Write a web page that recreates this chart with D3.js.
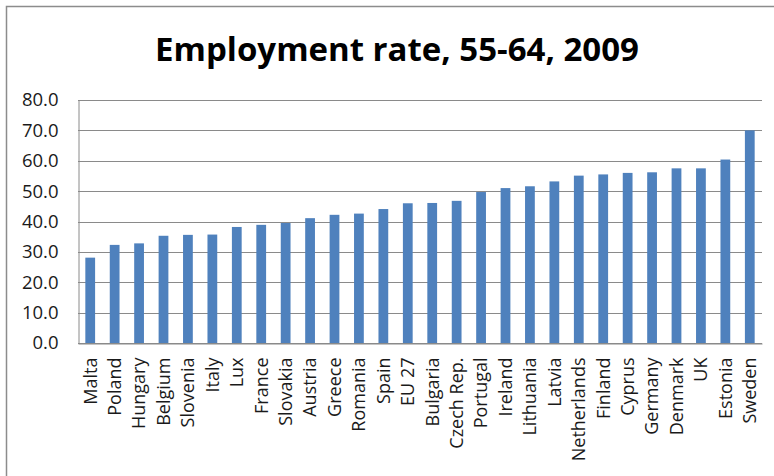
<!DOCTYPE html>
<html lang="en">
<head>
    <meta charset="UTF-8"/>
    <title>Employment rate, 55-64, 2009</title>
    <script src="https://d3js.org/d3.v7.min.js"></script>
    <style>
        body { margin: 0; background: #fff; }
    </style>
</head>
<body>
    <div id="chart"></div>

    <script>
        var countries = ["Malta", "Poland", "Hungary", "Belgium", "Slovenia", "Italy", "Lux",
                         "France", "Slovakia", "Austria", "Greece", "Romania", "Spain", "EU 27",
                         "Bulgaria", "Czech Rep.", "Portugal", "Ireland", "Lithuania", "Latvia",
                         "Netherlands", "Finland", "Cyprus", "Germany", "Denmark", "UK",
                         "Estonia", "Sweden"];
        var rates = [28.1, 32.3, 32.8, 35.3, 35.6, 35.7, 38.2,
                     38.9, 39.5, 41.1, 42.2, 42.6, 44.1, 46.0,
                     46.1, 46.8, 49.7, 51.0, 51.6, 53.2,
                     55.1, 55.5, 56.0, 56.2, 57.5, 57.5,
                     60.4, 70.0];
        var yTicks = [0, 10, 20, 30, 40, 50, 60, 70, 80];

        var w = 774;
        var h = 476;
        // plot area edges
        var plotL = 78, plotR = 762, plotT = 100, plotB = 343;

        var data = countries.map(function(c, i) { return { name: c, value: rates[i] }; });

        var xScale = d3.scaleBand()
                        .domain(countries)
                        .range([plotL, plotR])
                        .paddingInner(0.6)
                        .paddingOuter(0.3);

        var yScale = d3.scaleLinear()
                        .domain([0, 80])
                        .range([plotB, plotT]);

        var svg = d3.select("#chart")
                    .append("svg")
                    .attr("width", w)
                    .attr("height", h);

        // outer frame (only top and left edges show)
        svg.append("path")
           .attr("d", "M6.5," + h + " V6.5 H" + w)
           .attr("fill", "none")
           .attr("stroke", "#8c8c8c")
           .attr("stroke-width", 1.5);

        // title
        svg.append("text")
           .attr("x", 397)
           .attr("y", 61)
           .attr("text-anchor", "middle")
           .attr("font-family", "Open Sans")
           .attr("font-weight", "bold")
           .attr("font-size", "33px")
           .attr("fill", "#000")
           .text("Employment rate, 55-64, 2009");

        // gridlines
        svg.append("g")
           .selectAll("line")
           .data(yTicks)
           .enter()
           .append("line")
           .attr("x1", plotL)
           .attr("x2", plotR)
           .attr("y1", function(d) { return Math.round(yScale(d)) + 0.5; })
           .attr("y2", function(d) { return Math.round(yScale(d)) + 0.5; })
           .attr("stroke", "#8a8a8a")
           .attr("stroke-width", 1);

        // bars
        svg.append("g")
           .selectAll("rect")
           .data(data)
           .enter()
           .append("rect")
           .attr("x", function(d) { return xScale(d.name); })
           .attr("y", function(d) { return yScale(d.value); })
           .attr("width", xScale.bandwidth())
           .attr("height", function(d) { return yScale(0) - yScale(d.value); })
           .attr("fill", "#4f81bd");

        // y axis
        var yAxis = d3.axisLeft(yScale)
                      .tickValues(yTicks)
                      .tickFormat(d3.format(".1f"))
                      .tickSize(0)
                      .tickPadding(20);
        var yG = svg.append("g")
           .attr("transform", "translate(" + (plotL + 0.5) + ",0)")
           .call(yAxis);
        yG.select(".domain").attr("stroke", "#8a8a8a");
        yG.selectAll("text")
          .attr("font-family", "Open Sans")
          .attr("font-size", "18.5px")
          .attr("fill", "#1a1a1a");

        // x axis
        var xAxis = d3.axisBottom(xScale).tickSize(0).tickPadding(0);
        var xG = svg.append("g")
           .attr("transform", "translate(0," + (Math.round(plotB) + 0.5) + ")")
           .call(xAxis);
        xG.select(".domain").attr("stroke", "#8a8a8a");
        xG.selectAll("text")
          .attr("font-family", "Open Sans")
          .attr("font-size", "18px")
          .attr("fill", "#1a1a1a")
          .attr("text-anchor", "end")
          .attr("dy", "0.35em")
          .attr("transform", "translate(0,14) rotate(-90)");
    </script>
</body>
</html>
